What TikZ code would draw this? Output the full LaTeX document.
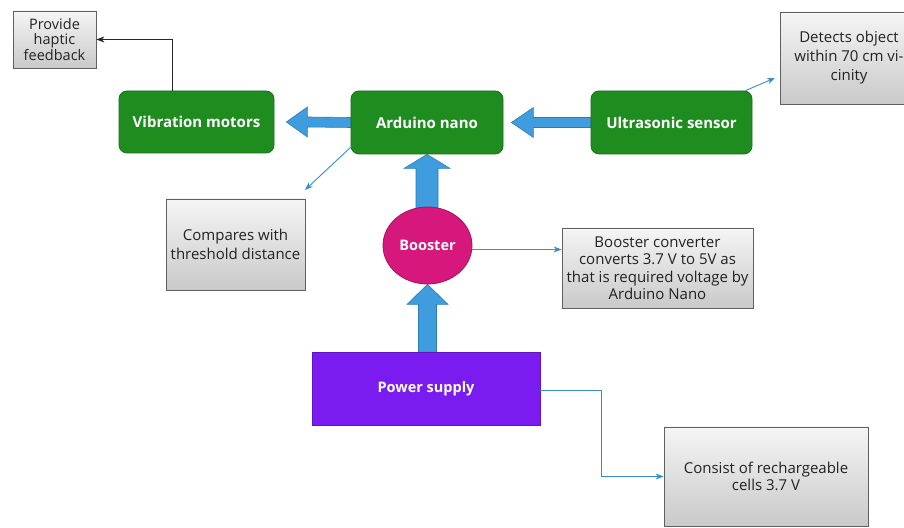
\documentclass[tikz,border=0pt]{standalone}
\usepackage{fontspec}
\setmainfont{Open Sans}
\usetikzlibrary{arrows.meta,calc,shapes.geometric,backgrounds}
\definecolor{boxgreen}{HTML}{1F8C1F}
\definecolor{boxgreenD}{HTML}{17701A}
\definecolor{fatblue}{HTML}{3F9DDD}
\definecolor{fatblueD}{HTML}{2A7DB5}
\definecolor{thinblue}{HTML}{3590C8}
\definecolor{boostmag}{HTML}{D6177C}
\definecolor{boostmagD}{HTML}{A8125F}
\definecolor{powpurple}{HTML}{7A1CF0}
\definecolor{powpurpleD}{HTML}{5E14C0}
\definecolor{txtdark}{HTML}{222222}
\tikzset{
  greenbox/.style={draw=boxgreenD, line width=0.8pt, fill=boxgreen, rounded corners=8pt,
    text=white, font=\fontsize{15}{17}\selectfont\bfseries, inner sep=0pt, align=center},
  notebox/.style={draw=gray!75!black, line width=0.8pt, top color=gray!8, bottom color=gray!42,
    text=txtdark, font=\fontsize{15}{19}\selectfont, inner sep=0pt, align=center},
  fat/.style={fill=fatblue, draw=fatblueD, line width=0.6pt, line join=miter},
  thinconn/.style={draw=thinblue, line width=0.9pt, -{Stealth[length=8pt,width=6pt]}},
  blackconn/.style={draw=black!85, line width=0.8pt, -{Stealth[length=8pt,width=6pt]}},
}
\begin{document}
\begin{tikzpicture}[x=1pt,y=1pt]
\useasboundingbox (0,0) rectangle (904,527);
\begin{scope}
\clip (0,0) rectangle (904,527);
% notes
\node[notebox, minimum width=83pt, minimum height=57pt, font=\fontsize{14.5}{15.5}\selectfont] (haptic) at (54.5,487.5) {Provide\\haptic\\feedback};
\node[notebox, minimum width=138pt, minimum height=92pt] (detects) at (849,469) {Detects object\\within 70 cm vi-\\cinity};
\node[notebox, minimum width=139pt, minimum height=91pt] (cmp) at (235.5,282.5) {Compares with\\threshold distance};
\node[notebox, minimum width=191pt, minimum height=80pt, font=\fontsize{15}{17.5}\selectfont] (conv) at (657.5,259) {Booster converter\\converts 3.7 V to 5V as\\that is required voltage by\\Arduino Nano};
\node[notebox, minimum width=204pt, minimum height=99pt, font=\fontsize{15}{17.5}\selectfont] (cons) at (766,50.5) {Consist of rechargeable\\cells 3.7 V};
% main blocks
\node[greenbox, minimum width=155pt, minimum height=62pt] (vib) at (196.5,405) {Vibration motors};
\node[greenbox, minimum width=152pt, minimum height=63pt] (ard) at (427,404.5) {Arduino nano};
\node[greenbox, minimum width=161pt, minimum height=63pt] (ultra) at (671.5,404.5) {Ultrasonic sensor};
\node[ellipse, draw=boostmagD, line width=0.8pt, fill=boostmag, minimum width=89pt, minimum height=77pt, inner sep=0pt,
  text=white, font=\fontsize{14.5}{17}\selectfont\bfseries] (booster) at (427.5,281.5) {Booster};
\node[draw=powpurpleD, line width=0.8pt, fill=powpurple, minimum width=228pt, minimum height=73pt, inner sep=0pt,
  text=white, font=\fontsize{14.5}{17}\selectfont\bfseries] (power) at (426,138.5) {Power supply};
% fat arrows
\begin{scope}[on background layer]
\fill[white] (0,0) rectangle (904,527);
\draw[fat] ($(ultra.west)+(0,5)$) -- ($(ard.east)+(30,5)$) -- ($(ard.east)+(30,15)$) -- ($(ard.east)+(8,0)$)
  -- ($(ard.east)+(30,-15)$) -- ($(ard.east)+(30,-5)$) -- ($(ultra.west)+(0,-5)$) -- cycle;
\draw[fat] ($(ard.west)+(0,5)$) -- ($(vib.east)+(33,5)$) -- ($(vib.east)+(33,15)$) -- ($(vib.east)+(12,0)$)
  -- ($(vib.east)+(33,-15)$) -- ($(vib.east)+(33,-5)$) -- ($(ard.west)+(0,-5)$) -- cycle;
\draw[fat] ($(booster.center -| ard.south)+(-11,0)$) -- ($(ard.south)+(-11,-14)$) -- ($(ard.south)+(-23,-14)$) -- (ard.south)
  -- ($(ard.south)+(23,-14)$) -- ($(ard.south)+(11,-14)$) -- ($(booster.center -| ard.south)+(11,0)$) -- cycle;
\draw[fat] ($(power.north -| booster.south)+(-9,0)$) -- ($(booster.south)+(-9,-20)$) -- ($(booster.south)+(-20.5,-20)$) -- (booster.south)
  -- ($(booster.south)+(20.5,-20)$) -- ($(booster.south)+(9,-20)$) -- ($(power.north -| booster.south)+(9,0)$) -- cycle;
\end{scope}
% thin connectors
\coordinate (cmpEnd) at (305,337);
\coordinate (detEnd) at (775,449);
\draw[blackconn] ($(vib.north west)+(54,0)$) |- (haptic.east);
\draw[thinconn] ($(ard.south west)+(1,8)$) -- (cmpEnd);
\draw[thinconn] ($(ultra.north east)+(-7,0)$) -- (detEnd);
\draw[thinconn] ($(booster.east)+(0,-4)$) -- ($(booster.east -| conv.west)+(0,-4)$);
\draw[thinconn] ($(power.east)+(0,-1.5)$) -- ++(61,0) |- (cons.west);
\end{scope}
\end{tikzpicture}
\end{document}
